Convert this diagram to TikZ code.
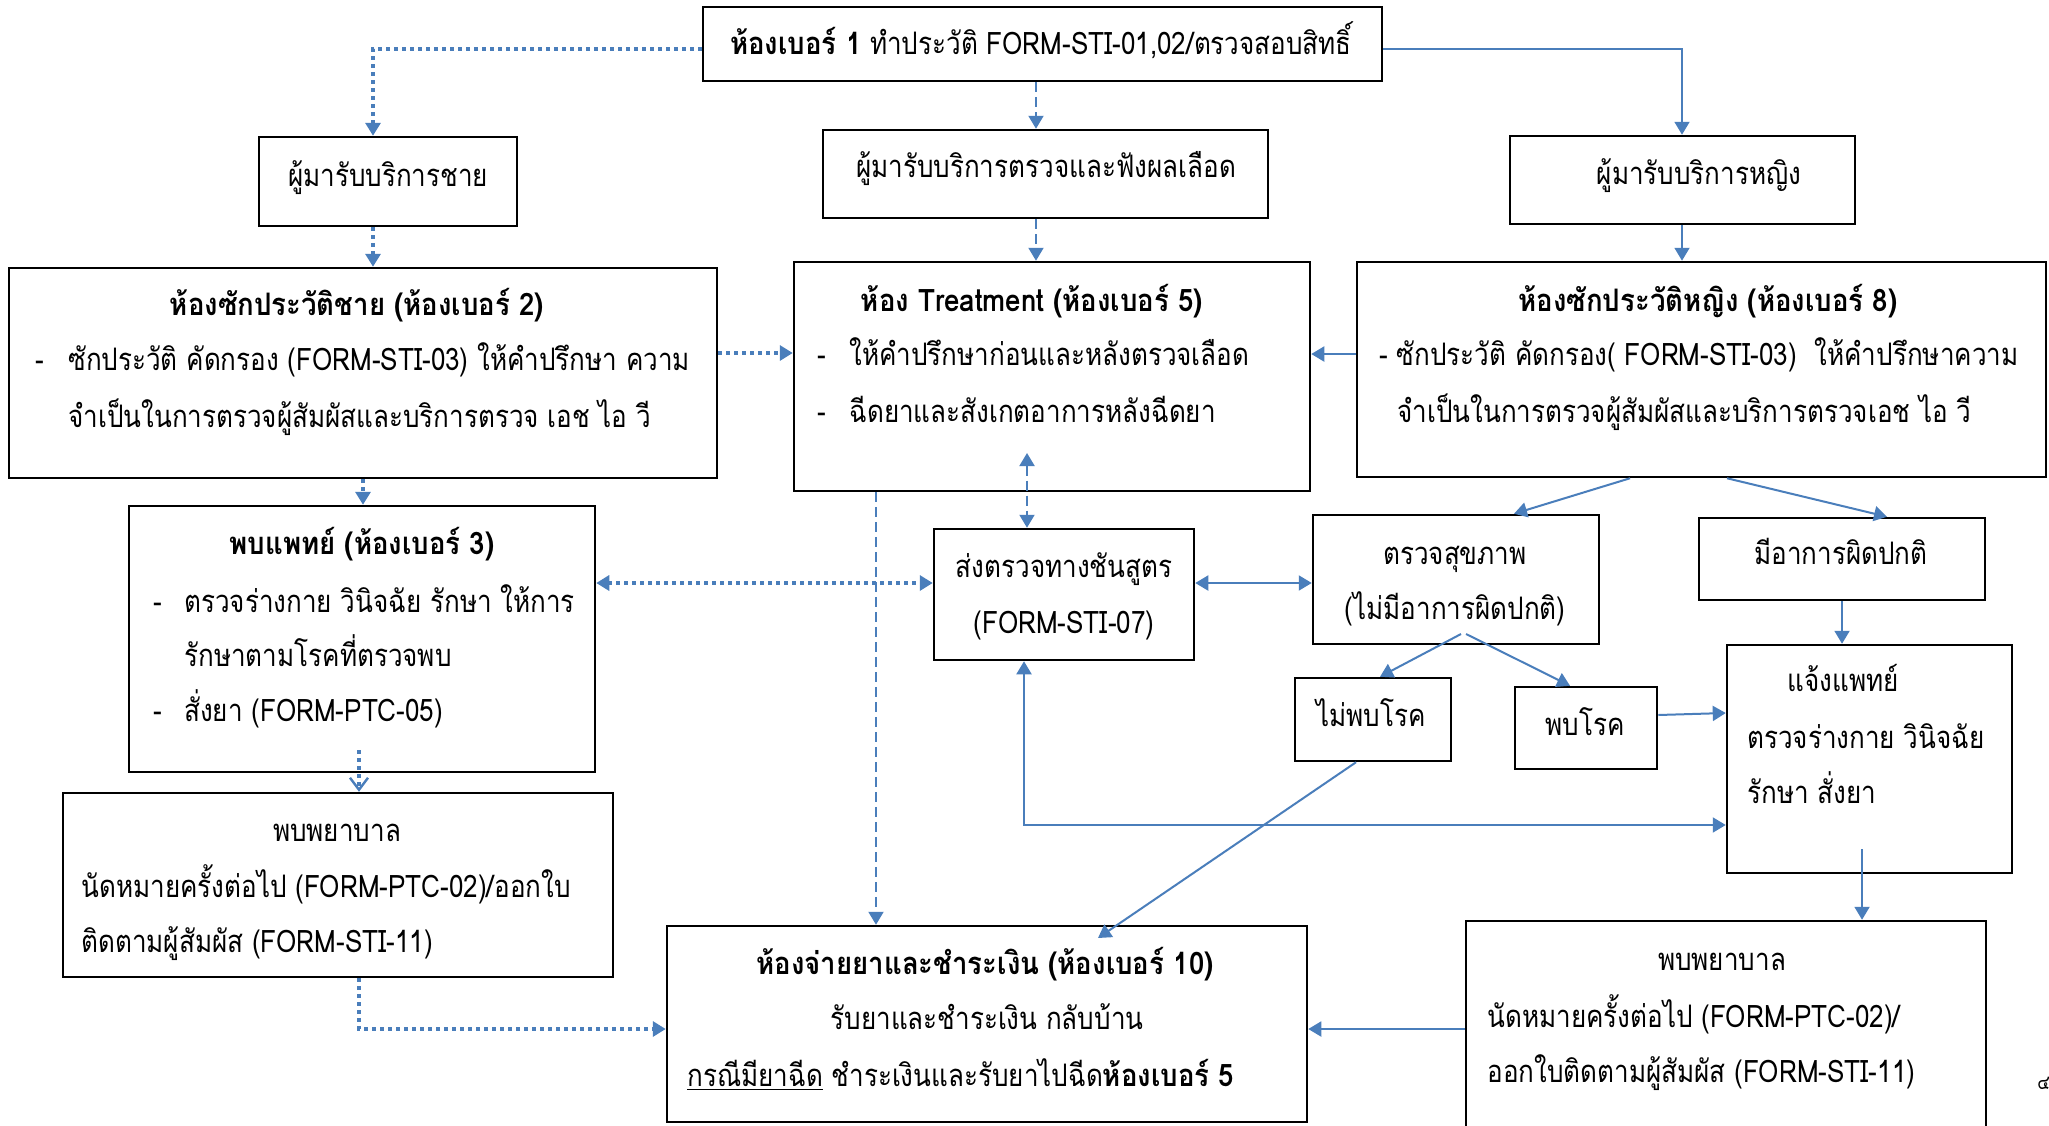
\documentclass[tikz,border=0pt]{standalone}
\usepackage{fontspec}
\setmainfont{Loma}[Script=Thai, UprightFeatures={FakeStretch=0.84}, BoldFeatures={FakeStretch=0.89}]
\usetikzlibrary{arrows.meta,fit,calc}
\definecolor{conn}{RGB}{74,126,187}
\newcommand{\flowfont}{\fontsize{15.5pt}{18pt}\selectfont}
\tikzset{
  box/.style={draw=black, line width=1.25pt, inner sep=0pt, rectangle},
  txt/.style={inner sep=0pt, font=\flowfont, yshift=-2.5pt},
  tip/.style={-{Triangle[length=6.5pt,width=7.5pt]}},
  tips/.style={{Triangle[length=6.5pt,width=7.5pt]}-{Triangle[length=6.5pt,width=7.5pt]}},
  barb/.style={-{Straight Barb[length=6pt,width=9pt,line width=1.2pt]}},
  solidln/.style={draw=conn, line width=1pt},
  dashln/.style={draw=conn, line width=1pt, dash pattern=on 5pt off 2.5pt},
  dotln/.style={draw=conn, line width=2pt, dash pattern=on 2pt off 2pt},
}
\begin{document}
\begin{tikzpicture}[x=0.5pt, y=-0.5pt]
\useasboundingbox (0,0) rectangle (2049,1125);
\clip (0,0) rectangle (2049,1125);
\fill[white] (0,0) rectangle (2049,1125);

% ---------- boxes ----------
\node[box, fit={(703,7) (1382,81)}] (b1) {};
\node[box, fit={(259,137) (517,226)}] (male) {};
\node[box, fit={(823,130) (1268,218)}] (blood) {};
\node[box, fit={(1510,136) (1855,224)}] (female) {};
\node[box, fit={(9,268) (717,478)}] (b2) {};
\node[box, fit={(794,262) (1310,491)}] (b5) {};
\node[box, fit={(1357,262) (2046,477)}] (b8) {};
\node[box, fit={(129,506) (595,772)}] (b3) {};
\node[box, fit={(63,793) (613,977)}] (nurseA) {};
\node[box, fit={(667,926) (1307,1122)}] (b10) {};
\node[box, fit={(934,529) (1194,660)}] (lab) {};
\node[box, fit={(1313,515) (1599,644)}] (health) {};
\node[box, fit={(1699,518) (1985,600)}] (abn) {};
\node[box, fit={(1295,678) (1451,761)}] (neg) {};
\node[box, fit={(1515,687) (1657,769)}] (pos) {};
\node[box, fit={(1727,645) (2012,873)}] (doc) {};
\node[box, fit={(1466,921) (1986,1150)}] (nurseB) {};

% ---------- texts ----------
\node[txt, anchor=mid] (t1) at (1041,44) {\textbf{ห้องเบอร์ 1} ทำประวัติ FORM-STI-01,02/ตรวจสอบสิทธิ์};
\node[txt, anchor=mid] (tmale) at (388,176) {ผู้มารับบริการชาย};
\node[txt, anchor=mid] (tblood) at (1046,167) {ผู้มารับบริการตรวจและฟังผลเลือด};
\node[txt, anchor=mid] (tfemale) at (1699,174) {ผู้มารับบริการหญิง};

\node[txt, anchor=mid] (t2a) at (357,305) {\textbf{ห้องซักประวัติชาย (ห้องเบอร์ 2)}};
\node[txt, anchor=mid west] (t2d) at (35,360) {-};
\node[txt, anchor=mid west] (t2b) at (68,360) {ซักประวัติ คัดกรอง (FORM-STI-03) ให้คำปรึกษา ความ};
\node[txt, anchor=mid west] (t2c) at (68,417) {จำเป็นในการตรวจผู้สัมผัสและบริการตรวจ เอช ไอ วี};

\node[txt, anchor=mid] (t5a) at (1032,301) {\textbf{ห้อง Treatment (ห้องเบอร์ 5)}};
\node[txt, anchor=mid west] (t5d1) at (817,355) {-};
\node[txt, anchor=mid west] (t5b) at (849,355) {ให้คำปรึกษาก่อนและหลังตรวจเลือด};
\node[txt, anchor=mid west] (t5d2) at (817,412) {-};
\node[txt, anchor=mid west] (t5c) at (849,412) {ฉีดยาและสังเกตอาการหลังฉีดยา};

\node[txt, anchor=mid] (t8a) at (1708,301) {\textbf{ห้องซักประวัติหญิง (ห้องเบอร์ 8)}};
\node[txt, anchor=mid west] (t8b) at (1379,355) {- ซักประวัติ คัดกรอง( FORM-STI-03)\ \ ให้คำปรึกษาความ};
\node[txt, anchor=mid west] (t8c) at (1397,412) {จำเป็นในการตรวจผู้สัมผัสและบริการตรวจเอช ไอ วี};

\node[txt, anchor=mid] (t3a) at (362,544) {\textbf{พบแพทย์ (ห้องเบอร์ 3)}};
\node[txt, anchor=mid west] (t3d1) at (153,602) {-};
\node[txt, anchor=mid west] (t3b) at (184,602) {ตรวจร่างกาย วินิจฉัย รักษา ให้การ};
\node[txt, anchor=mid west] (t3c) at (184,656) {รักษาตามโรคที่ตรวจพบ};
\node[txt, anchor=mid west] (t3d2) at (153,711) {-};
\node[txt, anchor=mid west] (t3e) at (184,711) {สั่งยา (FORM-PTC-05)};

\node[txt, anchor=mid] (tnA1) at (337,831) {พบพยาบาล};
\node[txt, anchor=mid west] (tnA2) at (81,887) {นัดหมายครั้งต่อไป (FORM-PTC-02)/ออกใบ};
\node[txt, anchor=mid west] (tnA3) at (81,942) {ติดตามผู้สัมผัส (FORM-STI-11)};

\node[txt, anchor=mid] (t10a) at (985,964) {\textbf{ห้องจ่ายยาและชำระเงิน (ห้องเบอร์ 10)}};
\node[txt, anchor=mid] (t10b) at (987,1019) {รับยาและชำระเงิน กลับบ้าน};
\node[txt, anchor=mid west] (t10c) at (687,1076) {\underline{กรณีมียาฉีด} ชำระเงินและรับยาไปฉีด\textbf{ห้องเบอร์ 5}};

\node[txt, anchor=mid] (tlab1) at (1064,567) {ส่งตรวจทางชันสูตร};
\node[txt, anchor=mid] (tlab2) at (1064,623) {(FORM-STI-07)};
\node[txt, anchor=mid] (th1) at (1455,554) {ตรวจสุขภาพ};
\node[txt, anchor=mid] (th2) at (1455,609) {(ไม่มีอาการผิดปกติ)};
\node[txt, anchor=mid] (tabn) at (1841,554) {มีอาการผิดปกติ};
\node[txt, anchor=mid] (tneg) at (1371,716) {ไม่พบโรค};
\node[txt, anchor=mid] (tpos) at (1585,725) {พบโรค};
\node[txt, anchor=mid] (tdoc1) at (1843,681) {แจ้งแพทย์};
\node[txt, anchor=mid west] (tdoc2) at (1747,738) {ตรวจร่างกาย วินิจฉัย};
\node[txt, anchor=mid west] (tdoc3) at (1747,793) {รักษา สั่งยา};

\node[txt, anchor=mid] (tnB1) at (1722,960) {พบพยาบาล};
\node[txt, anchor=mid west] (tnB2) at (1487,1017) {นัดหมายครั้งต่อไป (FORM-PTC-02)/};
\node[txt, anchor=mid west] (tnB3) at (1487,1072) {ออกใบติดตามผู้สัมผัส (FORM-STI-11)};

% page number at the right edge
\node[inner sep=0pt, anchor=west, font=\fontsize{10pt}{12pt}\selectfont] (pgno) at (2037,1083) {๔};

% ---------- helper points inside boxes ----------
\coordinate (b5in) at (1027,453);
\coordinate (b10in) at (1098,938);
\coordinate (hsplitL) at (1461,634);
\coordinate (hsplitR) at (1466,634);
\coordinate (docout) at (1862,849);
\coordinate (b3out) at (359,750);

% ---------- connectors ----------
% from room 1
\draw[dotln, tip] (b1.west |- 0,49) -| (male.north -| 373,0);
\draw[dashln, tip] (b1.south -| 1036,0) -- (blood.north -| 1036,0);
\draw[solidln, tip] (b1.east |- 0,49) -| (female.north -| 1682,0);
% to history rooms and treatment
\draw[dotln, tip] (male.south -| 373,0) -- (b2.north -| 373,0);
\draw[dashln, tip] (blood.south -| 1036,0) -- (b5.north -| 1036,0);
\draw[solidln, tip] (female.south -| 1682,0) -- (b8.north -| 1682,0);
\draw[dotln, tip] (b2.east |- 0,353) -- (b5.west |- 0,353);
\draw[solidln, tip] (b8.west |- 0,354) -- (b5.east |- 0,354);
% male path
\draw[dotln, tip] (b2.south -| 363,0) -- (b3.north -| 363,0);
\draw[dotln, tips] (b3.east |- 0,583) -- (lab.west |- 0,583);
\draw[dotln, barb] (b3out) -- (nurseA.north -| 359,0);
\draw[dotln, tip] (nurseA.south -| 359,0) |- (b10.west |- 0,1029);
% treatment and lab
\draw[dashln, tips] (b5in) -- (lab.north -| 1027,0);
\draw[dashln, tip] (b5.south -| 876,0) -- (b10.north -| 876,0);
\draw[solidln, tips] (lab.east |- 0,583) -- (health.west |- 0,583);
\draw[solidln, tips] (lab.south -| 1024,0) |- (doc.west |- 0,825);
% female path
\draw[solidln, tip] (b8.south -| 1630,0) -- (health.north -| 1514,0);
\draw[solidln, tip] (b8.south -| 1727,0) -- (abn.north -| 1887,0);
\draw[solidln, tip] (hsplitL) -- (neg.north -| 1380,0);
\draw[solidln, tip] (hsplitR) -- (pos.north -| 1570,0);
\draw[solidln, tip] (abn.south -| 1842,0) -- (doc.north -| 1842,0);
\draw[solidln, tip] (pos.east |- 0,715) -- (doc.west |- 0,713);
\draw[solidln, tip] (neg.south -| 1356,0) -- (b10in);
\draw[solidln, tip] (docout) -- (nurseB.north -| 1862,0);
\draw[solidln, tip] (nurseB.west |- 0,1029) -- (b10.east |- 0,1029);
\end{tikzpicture}
\end{document}
